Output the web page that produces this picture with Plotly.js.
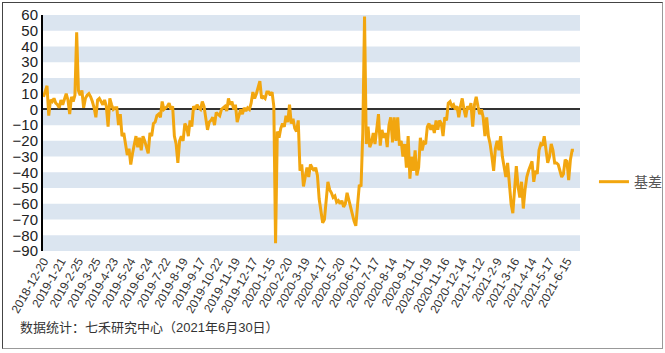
<!DOCTYPE html>
<html>
<head>
<meta charset="utf-8">
<script src="https://cdn.plot.ly/plotly-3.0.1.min.js"></script>
<style>
  html, body { margin: 0; padding: 0; background: #fff; }
  #wrap { position: relative; width: 665px; height: 353px; }
  #chart { position: absolute; left: 0; top: 0; width: 665px; height: 353px; }
  #frame { position: absolute; left: 2px; top: 2px; width: 659px; height: 345px;
           border: 1px solid; border-color: #444 #999 #999 #444; pointer-events: none; }
</style>
</head>
<body>
<div id="wrap"><div id="chart"></div><div id="frame"></div></div>
<script>
// Tick labels (one every 20 trading days)
const tickLabels = ['2018-12-20','2019-1-21','2019-2-25','2019-3-25','2019-4-23','2019-5-24','2019-6-24','2019-7-22','2019-8-19','2019-9-17','2019-10-22','2019-11-19','2019-12-17','2020-1-15','2020-2-20','2020-3-19','2020-4-17','2020-5-20','2020-6-17','2020-7-17','2020-8-14','2020-9-11','2020-10-19','2020-11-16','2020-12-14','2021-1-12','2021-2-9','2021-3-16','2021-4-14','2021-5-17','2021-6-15'];

// Basis series, one reading every 2 trading days
const basis = [
  8, 12, 15, -4, 6, 5, 7, 4, 3, 1,
  6, 3, 7, 10, 6, -3, 8, 5, 9, 49,
  12, 9, 12, 1, 7, 9, 10, 8, 5, 1,
  -5, 6, 7, 5, 3, 6, 2, -11, 7, 3,
  0, 1, 1, -10, -3, -17, -15, -22, -29, -25,
  -35, -28, -22, -17, -24, -18, -26, -17, -20, -24,
  -28, -15, -17, -9, -8, -4, -3, -5, 5, 0,
  1, 2, 4, 0, 2, -17, -22, -34, -20, -17,
  -20, -9, -11, -17, -7, -11, 2, 0, 3, 1,
  0, 5, 2, -5, -13, -8, -7, -5, -10, -2,
  -3, -4, 0, 1, 2, -1, 7, 3, 5, 0,
  3, -8, -4, 0, -3, 1, -1, 1, 0, 4,
  11, 7, 10, 14, 18, 7, 8, 7, 11, 11,
  9, 11, 2, -85, -14, -18, -12, -9, -11, -4,
  -8, 3, -9, -6, -12, -14, -7, -39, -35, -49,
  -42, -37, -43, -35, -37, -39, -37, -42, -57, -66,
  -72, -70, -60, -46, -51, -53, -56, -55, -59, -58,
  -60, -58, -62, -60, -53, -58, -63, -66, -71, -74,
  -60, -48, -49, -15, 59, -22, -11, -24, -21, -15,
  -22, -12, -3, -23, -13, -18, -15, -24, -10, -5,
  -21, -5, -20, -5, -23, -20, -30, -22, -37, -17,
  -44, -30, -39, -26, -42, -37, -18, -26, -21, -22,
  -11, -9, -13, -10, -15, -7, -13, -7, -9, -17,
  -5, -7, 4, 5, 2, 3, 0, 2, -5, 2,
  7, 0, -5, 2, 0, 4, -11, 3, 8, 2,
  -3, 0, -5, -17, -5, -17, -22, -30, -39, -25,
  -20, -26, -17, -30, -36, -43, -34, -49, -60, -66,
  -51, -36, -49, -56, -46, -63, -51, -43, -39, -36,
  -33, -46, -39, -41, -26, -22, -23, -17, -27, -34,
  -30, -22, -26, -34, -34, -35, -39, -43, -41, -32,
  -33, -45, -32, -26, -26
];
const seriesName = '基差';
const yTicks = [60, 50, 40, 30, 20, 10, 0, -10, -20, -30, -40, -50, -60, -70, -80, -90];
const sourceNote = '数据统计：七禾研究中心（2021年6月30日）';

const DAYS_PER_SAMPLE = 2, DAYS_PER_TICK = 20;
const tickVals = tickLabels.map((_, i) => i * DAYS_PER_TICK / DAYS_PER_SAMPLE);

// alternating horizontal bands between y ticks
const bands = [];
yTicks.slice().sort((a, b) => a - b).forEach((v, i, arr) => {
  if (i < arr.length - 1 && i % 2 === 0) {
    bands.push({type: 'rect', xref: 'paper', x0: 0, x1: 1, yref: 'y', y0: v, y1: arr[i + 1],
      fillcolor: '#dbe5f0', line: {width: 0}, layer: 'below'});
  }
});

const trace = {
  y: basis, type: 'scatter', mode: 'lines', name: seriesName,
  line: {color: '#f2a60f', width: 3}
};

const layout = {
  width: 665, height: 353,
  margin: {l: 43, r: 85, t: 15, b: 102, autoexpand: false},
  paper_bgcolor: '#fff', plot_bgcolor: '#fff',
  font: {family: 'Liberation Sans, Arial, sans-serif', color: '#222'},
  showlegend: true,
  legend: {x: 1.026, xanchor: 'left', y: 0.292, yanchor: 'middle',
    font: {family: 'Noto Sans CJK SC, sans-serif', size: 14, color: '#555'},
    bgcolor: 'rgba(0,0,0,0)', borderwidth: 0},
  xaxis: {
    range: [-0.3, 307.5], tickmode: 'array', tickvals: tickVals, ticktext: tickLabels,
    tickangle: -60, tickfont: {size: 12, color: '#333'}, showgrid: false, zeroline: false,
    showline: false, ticks: ''
  },
  yaxis: {
    range: [-90, 60], tickmode: 'array', tickvals: yTicks, ticks: '',
    tickfont: {size: 15, color: '#222'}, showgrid: false,
    zeroline: true, zerolinecolor: '#333', zerolinewidth: 2,
    showline: true, linecolor: '#000', linewidth: 2
  },
  shapes: bands,
  annotations: [{
    text: sourceNote, xref: 'paper', yref: 'paper', x: -0.047, y: -0.326,
    xanchor: 'left', yanchor: 'middle', showarrow: false,
    font: {family: 'Liberation Sans, Noto Sans CJK SC, sans-serif', size: 13, color: '#333'}
  }]
};

Plotly.newPlot('chart', [trace], layout, {staticPlot: true, displayModeBar: false});
</script>
</body>
</html>
